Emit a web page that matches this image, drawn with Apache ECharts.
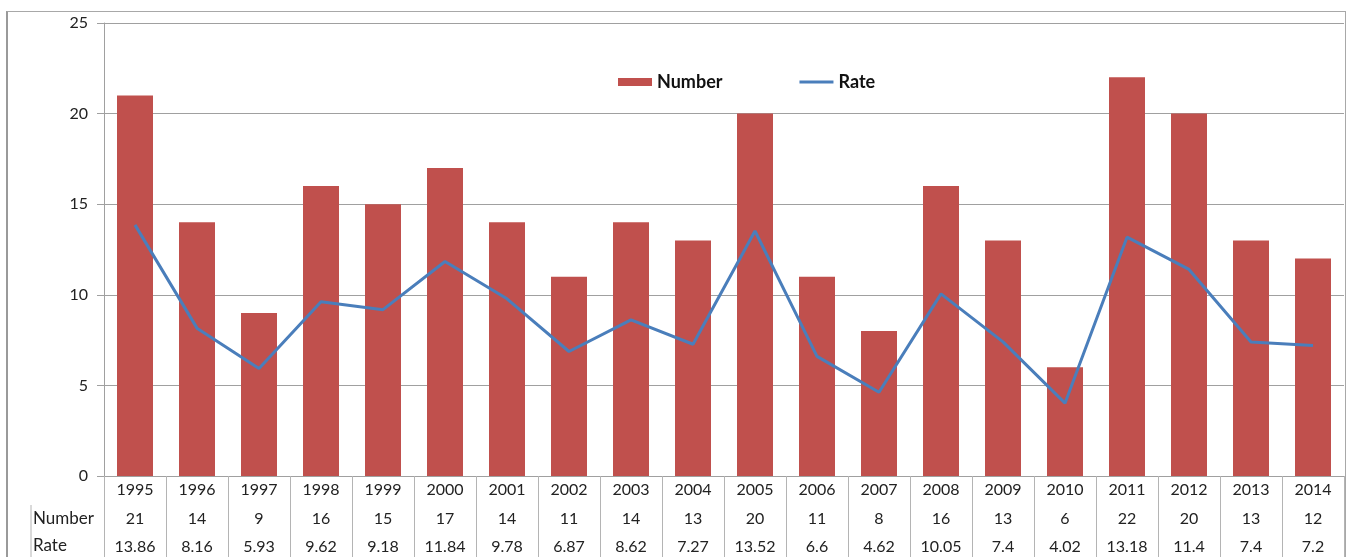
<!DOCTYPE html>
<html>
<head>
<meta charset="utf-8">
<style>
  html, body { margin: 0; padding: 0; background: #fff; }
  #frame { position: absolute; left: 6px; top: 11px; width: 1337px; height: 560px;
           border-left: 2px solid #9a9a9a; border-top: 1px solid #a8a8a8; border-right: 1px solid #a8a8a8; }
  #chart { position: absolute; left: 0; top: 0; width: 1349px; height: 557px; }
</style>
<script src="https://cdn.jsdelivr.net/npm/echarts@6/dist/echarts.min.js"></script>
</head>
<body>
<div id="frame"></div>
<div id="chart"></div>
<script>
// Yearly counts and rates, 1995–2014
const years = ['1995','1996','1997','1998','1999','2000','2001','2002','2003','2004',
               '2005','2006','2007','2008','2009','2010','2011','2012','2013','2014'];
const numbers = [21, 14, 9, 16, 15, 17, 14, 11, 14, 13, 20, 11, 8, 16, 13, 6, 22, 20, 13, 12];
const rates = [13.86, 8.16, 5.93, 9.62, 9.18, 11.84, 9.78, 6.87, 8.62, 7.27,
               13.52, 6.6, 4.62, 10.05, 7.4, 4.02, 13.18, 11.4, 7.4, 7.2];
const yTicks = [0, 5, 10, 15, 20, 25];

const FONT = 'Lato, "Open Sans", sans-serif';
const GRAY = '#a0a0a0';
const TXT = '#222';
const BAR_COLOR = '#C0504D';
const LINE_COLOR = '#4A7EBB';

const chart = echarts.init(document.getElementById('chart'), null, { renderer: 'canvas' });

chart.setOption({
  animation: false,
  textStyle: { fontFamily: FONT, color: TXT },
  grid: { left: 104, right: 5, top: 23, bottom: 81, containLabel: false },
  legend: {
    left: 618, top: 73, padding: 0,
    itemWidth: 34, itemHeight: 8, itemGap: 77,
    textStyle: { fontFamily: FONT, fontSize: 18, fontWeight: 'bold', color: '#111' },
    data: [
      { name: 'Number', icon: 'rect' },
      { name: 'Rate', icon: 'path://M0,0h34v3h-34z' }
    ]
  },
  xAxis: {
    type: 'category',
    data: years,
    boundaryGap: true,
    axisLine: { lineStyle: { color: GRAY, width: 1 } },
    axisTick: { show: true, alignWithLabel: false, length: 82, lineStyle: { color: '#b4b4b4' } },
    axisLabel: {
      interval: 0,
      margin: 0,
      formatter: function (value, idx) {
        return '{y|' + value + '}\n{n|' + numbers[idx] + '}\n{r|' + rates[idx] + '}';
      },
      rich: {
        y: { fontFamily: FONT, fontSize: 16, color: TXT, lineHeight: 28 },
        n: { fontFamily: FONT, fontSize: 16, color: TXT, lineHeight: 30 },
        r: { fontFamily: FONT, fontSize: 16, color: TXT, lineHeight: 26 }
      }
    }
  },
  yAxis: {
    type: 'value',
    min: yTicks[0],
    max: yTicks[yTicks.length - 1],
    interval: yTicks[1] - yTicks[0],
    axisLine: { show: true, lineStyle: { color: GRAY, width: 1 } },
    axisTick: { show: true, length: 7, lineStyle: { color: GRAY } },
    axisLabel: { margin: 16, fontFamily: FONT, fontSize: 16, color: TXT },
    splitLine: { show: true, lineStyle: { color: GRAY, width: 1 } }
  },
  graphic: [
    { type: 'text', left: 33, top: 510, style: { text: 'Number', font: '17px ' + FONT, fill: TXT } },
    { type: 'text', left: 33, top: 537, style: { text: 'Rate', font: '17px ' + FONT, fill: TXT } },
    { type: 'line', shape: { x1: 31, y1: 505, x2: 31, y2: 557 }, style: { stroke: '#b4b4b4', lineWidth: 1 } }
  ],
  series: [
    {
      name: 'Number',
      type: 'bar',
      data: numbers,
      barWidth: 36,
      itemStyle: { color: BAR_COLOR }
    },
    {
      name: 'Rate',
      type: 'line',
      data: rates,
      symbol: 'none',
      lineStyle: { color: LINE_COLOR, width: 3 },
      itemStyle: { color: LINE_COLOR }
    }
  ]
});
</script>
</body>
</html>
